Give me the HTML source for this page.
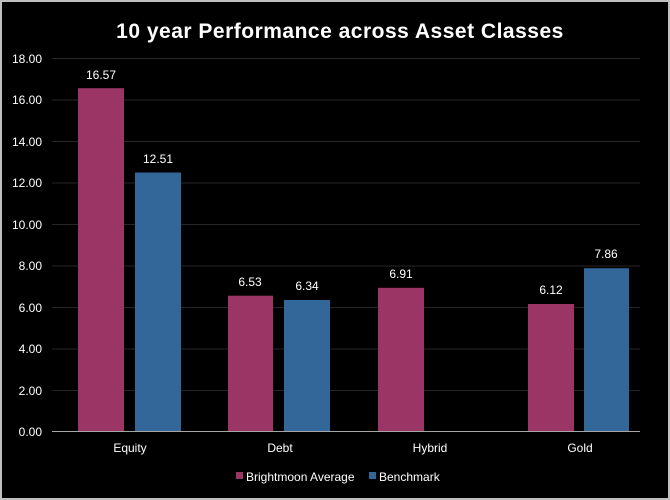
<!DOCTYPE html>
<html><head><style>
body{margin:0;background:#fff}
svg{display:block}
text{font-family:"Liberation Sans",sans-serif;fill:#fff}
</style></head><body>
<svg width="670" height="500" viewBox="0 0 670 500">
<rect x="0" y="0" width="670" height="500" fill="#bfbfbf"/>
<rect x="2" y="2" width="666" height="496" fill="#000"/>
<text x="340" y="38" font-size="21" font-weight="bold" text-anchor="middle" letter-spacing="0.5">10 year Performance across Asset Classes</text>
<g stroke="#262626" stroke-width="1">
<line x1="52" x2="640" y1="58.5" y2="58.5"/><line x1="52" x2="640" y1="100" y2="100"/>
<line x1="52" x2="640" y1="141.5" y2="141.5"/><line x1="52" x2="640" y1="183" y2="183"/>
<line x1="52" x2="640" y1="224.5" y2="224.5"/><line x1="52" x2="640" y1="266" y2="266"/>
<line x1="52" x2="640" y1="307.5" y2="307.5"/><line x1="52" x2="640" y1="349" y2="349"/>
<line x1="52" x2="640" y1="390.5" y2="390.5"/>
</g>
<g font-size="12" text-anchor="end">
<text x="42" y="63">18.00</text><text x="42" y="104">16.00</text><text x="42" y="146">14.00</text>
<text x="42" y="187">12.00</text><text x="42" y="229">10.00</text><text x="42" y="270">8.00</text>
<text x="42" y="312">6.00</text><text x="42" y="353">4.00</text><text x="42" y="395">2.00</text>
<text x="42" y="436">0.00</text>
</g>
<g fill="#9b3566">
<rect x="78" y="88.2" width="46" height="343"/>
<rect x="228" y="295.7" width="45" height="135.5"/>
<rect x="378" y="287.8" width="46" height="143.4"/>
<rect x="528" y="304" width="46" height="127"/>
</g>
<g fill="#336699">
<rect x="135" y="172.5" width="46" height="259"/>
<rect x="284" y="300" width="46" height="131.5"/>
<rect x="584" y="268.2" width="45" height="163"/>
</g>
<line x1="52" x2="640" y1="431.5" y2="431.5" stroke="#a6a6a6" stroke-width="1"/>
<g font-size="12" text-anchor="middle">
<text x="101" y="79">16.57</text><text x="158" y="163">12.51</text>
<text x="250" y="286">6.53</text><text x="307" y="290">6.34</text>
<text x="401" y="278">6.91</text>
<text x="551" y="294">6.12</text><text x="606" y="258">7.86</text>
<text x="130" y="452">Equity</text><text x="280" y="452">Debt</text>
<text x="430" y="452">Hybrid</text><text x="580" y="452">Gold</text>
</g>
<rect x="236" y="472" width="7" height="7" fill="#9b3566"/>
<text x="246" y="481" font-size="12">Brightmoon Average</text>
<rect x="369" y="472" width="7" height="7" fill="#336699"/>
<text x="379" y="481" font-size="12">Benchmark</text>
</svg>
</body></html>
